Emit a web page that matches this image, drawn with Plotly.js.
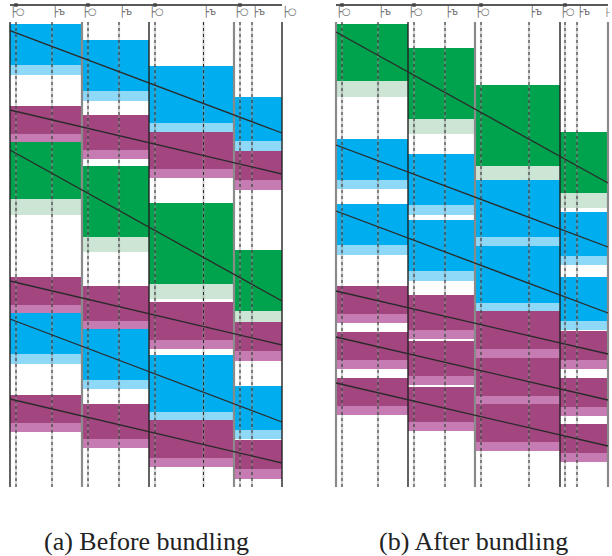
<!DOCTYPE html>
<html>
<head>
<meta charset="utf-8">
<script src="https://cdn.plot.ly/plotly-3.0.1.min.js"></script>
<style>html,body{margin:0;padding:0;background:#fff;}#chart{width:612px;height:556px;}</style>
</head>
<body>
<div id="chart"></div>
<script>
// ---- Column boundaries (diagram units) ----
const colEdgesA = [10, 82, 149, 234, 282];
const colEdgesB = [336, 408, 475, 560, 608];
const solidStyleA = ['black', 'gray', 'black', 'gray', 'black'];
const solidStyleB = ['gray', 'black', 'gray', 'black', 'gray'];

// ---- Bands: per column [top, end of dark part, end of light part] ----
// Panel (a) Before bundling
const aBlue1   = [[24, 65, 75], [40, 91, 101], [66, 123, 132], [97, 141, 151]];
const aPurple1 = [[106, 134, 142], [115, 150, 159], [132, 169, 178], [151, 180, 190]];
const aGreen1  = [[142, 199, 215], [166, 237, 252], [203, 284, 299], [250, 311, 322]];
const aPurple2 = [[277, 305, 313], [286, 321, 329], [302, 340, 349], [322, 351, 361]];
const aBlue2   = [[313, 354, 364], [329, 380, 389], [355, 412, 420], [386, 430, 439]];
const aPurple3 = [[395, 423, 432], [404, 439, 448], [420, 458, 467], [440, 469, 479]];
// Panel (b) After bundling
const bGreen1  = [[24, 81, 97], [48, 119, 134], [85, 166, 180], [132, 193, 208]];
const bBlue1   = [[139, 180, 189], [154, 205, 215], [180, 237, 246], [212, 256, 265]];
const bBlue2   = [[204, 245, 255], [220, 271, 281], [246, 303, 311], [277, 321, 330]];
const bPurple1 = [[286, 314, 323], [295, 330, 339], [311, 349, 358], [331, 360, 369]];
const bPurple2 = [[332, 360, 369], [341, 376, 385], [358, 396, 404], [378, 407, 416]];
const bPurple3 = [[378, 406, 415], [387, 422, 431], [404, 442, 451], [424, 453, 462]];

// ---- Diagonal lines: y at left edge and right edge ----
const aLineY0 = [30.7, 110, 150, 281, 319, 399];
const aLineY1 = [133, 174, 301, 345, 422, 463];
const bLineY0 = [32, 145, 211, 291, 337, 383];
const bLineY1 = [183, 247, 313, 354, 400, 446];

// ---- Dotted guide lines, timeline marks, gate symbols ----
const aDotted = [16, 52, 88, 119, 155, 203.5, 240, 252];
const bDotted = [342, 378, 414, 445, 481, 529, 565, 577];
const aMarks = [16, 88, 155, 240];
const bMarks = [342, 414, 481, 565];
const aGateO = [10, 82, 149, 234, 282];
const aGateB = [52, 119, 203, 252];
const bGateO = [336, 408, 475, 560];
const bGateEdge = [607];
const bGateB = [378, 445, 529, 577];
const captions = ['(a) Before bundling', '(b) After bundling'];

// ---- Styles ----
const COLORS = {
  blue:   ['#00ADEE', '#8ED8F8'],
  purple: ['#A3457F', '#C77BB3'],
  green:  ['#00A34D', '#CCE5D5']
};
const V_TOP = 22, V_BOT = 487, AXIS_Y = 5, GATE_Y = 12.5;

const traces = [];

function bandTraces(edges, band, colorKey) {
  const xs = [], ws = [];
  for (let i = 0; i < edges.length - 1; i++) {
    xs.push((edges[i] + edges[i + 1]) / 2);
    ws.push(edges[i + 1] - edges[i]);
  }
  const [dark, light] = COLORS[colorKey];
  traces.push({type: 'bar', x: xs, width: ws, base: band.map(b => b[0]),
    y: band.map(b => b[1] - b[0]), marker: {color: dark, line: {width: 0}},
    hoverinfo: 'skip'});
  traces.push({type: 'bar', x: xs, width: ws, base: band.map(b => b[1]),
    y: band.map(b => b[2] - b[1]), marker: {color: light, line: {width: 0}},
    hoverinfo: 'skip'});
}

bandTraces(colEdgesA, aBlue1, 'blue');
bandTraces(colEdgesA, aPurple1, 'purple');
bandTraces(colEdgesA, aGreen1, 'green');
bandTraces(colEdgesA, aPurple2, 'purple');
bandTraces(colEdgesA, aBlue2, 'blue');
bandTraces(colEdgesA, aPurple3, 'purple');
bandTraces(colEdgesB, bGreen1, 'green');
bandTraces(colEdgesB, bBlue1, 'blue');
bandTraces(colEdgesB, bBlue2, 'blue');
bandTraces(colEdgesB, bPurple1, 'purple');
bandTraces(colEdgesB, bPurple2, 'purple');
bandTraces(colEdgesB, bPurple3, 'purple');

function vlines(xsArr, color, width, dash) {
  const x = [], y = [];
  xsArr.forEach(v => { x.push(v, v, null); y.push(V_TOP, V_BOT, null); });
  traces.push({type: 'scatter', mode: 'lines', x, y,
    line: {color, width, dash}, hoverinfo: 'skip'});
}
// dotted guides (gray haze + dark dots)
vlines(aDotted.concat(bDotted), 'rgba(150,150,150,0.4)', 2.2, 'solid');
vlines(aDotted.concat(bDotted), '#2a2a2a', 1, 'dot');

// solid column separators
function solids(edges, styles) {
  const blacks = edges.filter((e, i) => styles[i] === 'black');
  const grays = edges.filter((e, i) => styles[i] === 'gray');
  vlines(grays, '#8a8a8a', 2.2, 'solid');
  vlines(blacks, '#222', 1.4, 'solid');
}
solids(colEdgesA, solidStyleA);
solids(colEdgesB, solidStyleB);

// diagonal lines
function diagonals(edges, y0s, y1s) {
  const x = [], y = [];
  const xl = edges[0], xr = edges[edges.length - 1];
  y0s.forEach((v, i) => { x.push(xl, xr, null); y.push(v, y1s[i], null); });
  traces.push({type: 'scatter', mode: 'lines', x, y,
    line: {color: '#2a2a2a', width: 1.3}, hoverinfo: 'skip'});
}
diagonals(colEdgesA, aLineY0, aLineY1);
diagonals(colEdgesB, bLineY0, bLineY1);

// top timelines
[[colEdgesA, aMarks], [colEdgesB, bMarks]].forEach(([edges, marks]) => {
  traces.push({type: 'scatter', mode: 'lines',
    x: [edges[0], edges[edges.length - 1]], y: [AXIS_Y, AXIS_Y],
    line: {color: '#222', width: 1.4}, hoverinfo: 'skip'});
  traces.push({type: 'scatter', mode: 'markers', x: marks, y: marks.map(() => AXIS_Y),
    marker: {symbol: 'square', size: 3.5, color: '#444'}, hoverinfo: 'skip'});
});

// gate symbols
const gateFont = {family: 'DejaVu Sans', size: 10, color: '#666'};
const gateXO = aGateO.concat(bGateO), gateXB = aGateB.concat(bGateB);
traces.push({type: 'scatter', mode: 'text', x: gateXO, y: gateXO.map(() => GATE_Y),
  text: gateXO.map(() => '├○'), textposition: 'middle right',
  textfont: gateFont, hoverinfo: 'skip', cliponaxis: false});
traces.push({type: 'scatter', mode: 'text', x: gateXB, y: gateXB.map(() => GATE_Y),
  text: gateXB.map(() => '├ъ'), textposition: 'middle right',
  textfont: gateFont, hoverinfo: 'skip', cliponaxis: false});
traces.push({type: 'scatter', mode: 'text', x: bGateEdge, y: bGateEdge.map(() => GATE_Y),
  text: bGateEdge.map(() => '├'), textposition: 'middle center',
  textfont: {family: 'DejaVu Sans', size: 8, color: '#666'}, hoverinfo: 'skip', cliponaxis: false});

const layout = {
  width: 612, height: 556,
  margin: {l: 0, r: 0, t: 0, b: 0},
  paper_bgcolor: '#fff', plot_bgcolor: '#fff',
  showlegend: false, barmode: 'overlay',
  xaxis: {range: [0, 612], visible: false, fixedrange: true},
  yaxis: {range: [556, 0], visible: false, fixedrange: true},
  annotations: [
    {x: 146, y: 541, xref: 'x', yref: 'y', text: captions[0], showarrow: false,
     font: {family: 'Liberation Serif', size: 26, color: '#222'}},
    {x: 473, y: 541, xref: 'x', yref: 'y', text: captions[1], showarrow: false,
     font: {family: 'Liberation Serif', size: 26, color: '#222'}}
  ]
};

Plotly.newPlot('chart', traces, layout, {staticPlot: true, displayModeBar: false});
</script>
</body>
</html>
